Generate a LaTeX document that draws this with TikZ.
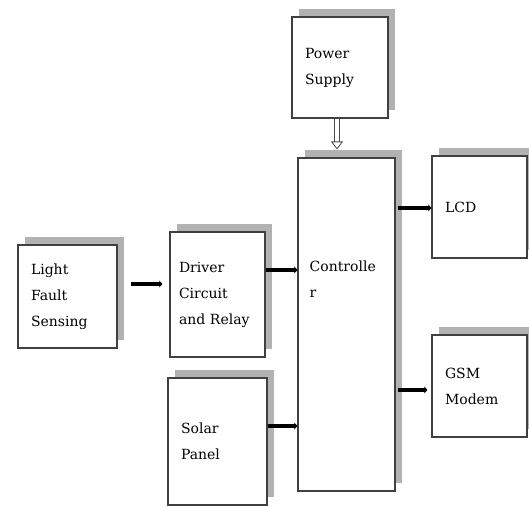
\documentclass[tikz,border=0pt]{standalone}
\usepackage{fontspec}
\setmainfont{DejaVu Serif}
\usetikzlibrary{arrows.meta,shadows,calc}

\begin{document}
\begin{tikzpicture}[
  x=1pt, y=-1pt,
  block/.style={draw=black!75, line width=1.1pt, fill=white,
    drop shadow={shadow xshift=7pt, shadow yshift=8pt, fill=black!30, opacity=1},
    align=left, inner xsep=13pt, inner ysep=0pt,
    font=\fontsize{14}{26}\selectfont},
  flow/.style={line width=4.5pt, -{Triangle[length=3pt,width=6.5pt]}},
  feed/.style={draw=black!70, line width=0.8pt, double=white, double distance=4pt,
    -{Triangle[open,length=8pt,width=12pt]}}
]
  \useasboundingbox (0,0) rectangle (529,506);

  \node[block, minimum width=99, minimum height=103, text width=73] (light) at (67.5,296.5) {Light\\Fault\\Sensing};
  \node[block, minimum width=95, minimum height=125, text width=77, inner xsep=9pt] (driver) at (217.5,294.5) {Driver\\Circuit\\and Relay};
  \node[block, minimum width=99, minimum height=127, text width=73] (solar) at (217.5,441.5) {Solar\\Panel};
  \node[block, minimum width=97, minimum height=333] (ctrl) at (346.5,324.5) {};
  \node[block, minimum width=96, minimum height=101, text width=70] (power) at (340,67.5) {Power\\Supply};
  \node[block, minimum width=95, minimum height=102, text width=69] (lcd) at (479.5,207) {LCD};
  \node[block, minimum width=95, minimum height=102, text width=69] (gsm) at (479.5,386) {GSM\\Modem};

  \node[align=left, inner sep=0pt, anchor=north west, font=\fontsize{14}{26}\selectfont]
    (ctrltext) at ([xshift=12pt,yshift=-103pt]ctrl.north west) {Controlle\\r};

  % connections
  \draw[flow] (light.east |- 0,284) ++(13,0) -- ($(driver.west |- 0,284)+(-7,0)$);
  \draw[flow] (driver.east |- 0,270) -- (ctrl.west |- 0,270);
  \draw[flow] (solar.east |- 0,426) -- (ctrl.west |- 0,426);
  \draw[flow] ($(ctrl.east |- 0,208)+(2,0)$) -- (lcd.west |- 0,208);
  \draw[flow] ($(ctrl.east |- 0,390)+(2,0)$) -- ($(gsm.west |- 0,390)+(-4,0)$);
  \draw[feed, shorten >=8pt] ([xshift=-3pt]power.south) -- ([xshift=-3pt]power.south |- ctrl.north);
\end{tikzpicture}
\end{document}
